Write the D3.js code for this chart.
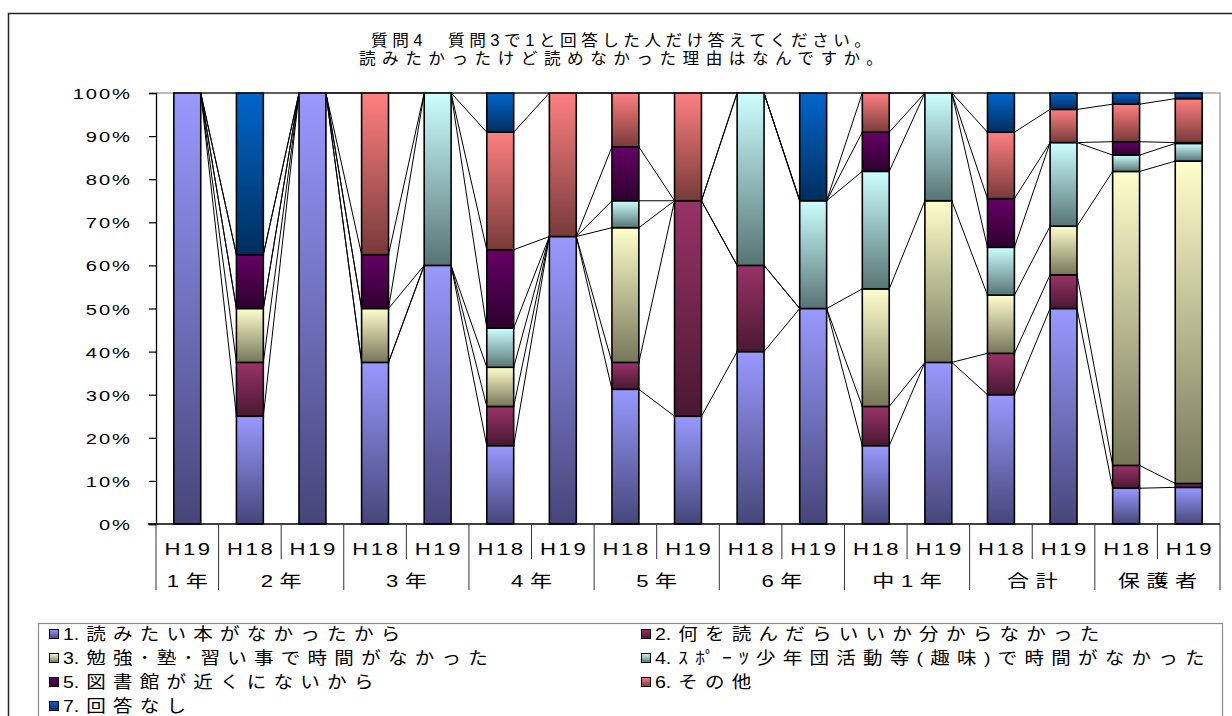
<!DOCTYPE html>
<html lang="ja">
<head>
<meta charset="utf-8">
<script src="https://cdn.jsdelivr.net/npm/d3@7"></script>
<style>
  html, body { margin: 0; padding: 0; background: #fff; }
  svg { display: block; }
  text { font-family: "Liberation Sans", "Noto Sans CJK JP", sans-serif; fill: #000; }
</style>
</head>
<body>
<svg id="chart" width="1232" height="716"></svg>
<script>
// Survey periods on the x axis (one bar each) and the grade groups they belong to
const periods = ["H19", "H18", "H19", "H18", "H19", "H18", "H19", "H18", "H19",
                 "H18", "H19", "H18", "H19", "H18", "H19", "H18", "H19"];
const groups = ["1年", "2年", "3年", "4年", "5年", "6年", "中1年", "合計", "保護者"];
const groupSizes = [1, 2, 2, 2, 2, 2, 2, 2, 2];

// Answer options (series)
const seriesNames = [
  "1. 読みたい本がなかったから",
  "2. 何を読んだらいいか分からなかった",
  "3. 勉強･塾･習い事で時間がなかった",
  "4. ｽﾎﾟｰﾂ少年団活動等(趣味)で時間がなかった",
  "5. 図書館が近くにないから",
  "6. その他",
  "7. 回答なし"
];

// Share of answers (%) per bar, one array per option
const opt1 = [100, 25, 100, 37.5, 60, 18.2, 66.7, 31.25, 25, 40, 50, 18.2, 37.5, 30.0, 50.0, 8.3, 8.5];
const opt2 = [0, 12.5, 0, 0, 0, 9.1, 0, 6.25, 50, 20, 0, 9.1, 0, 9.6, 7.8, 5.3, 0.9];
const opt3 = [0, 12.5, 0, 12.5, 0, 9.1, 0, 31.25, 0, 0, 0, 27.3, 37.5, 13.5, 11.3, 68.2, 74.8];
const opt4 = [0, 0, 0, 0, 40, 9.1, 0, 6.25, 0, 40, 25, 27.3, 25, 11.1, 19.4, 3.8, 4.1];
const opt5 = [0, 12.5, 0, 12.5, 0, 18.2, 0, 12.5, 0, 0, 0, 9.1, 0, 11.3, 0, 3.1, 0.2];
const opt6 = [0, 0, 0, 37.5, 0, 27.3, 33.3, 12.5, 25, 0, 0, 9.1, 0, 15.4, 7.7, 8.7, 10.2];
const opt7 = [0, 37.5, 0, 0, 0, 9.1, 0, 0, 0, 0, 25, 0, 0, 9.1, 3.8, 2.6, 1.3];

const yTicks = [0, 0.1, 0.2, 0.3, 0.4, 0.5, 0.6, 0.7, 0.8, 0.9, 1.0];

const titleLines = ["質問4　質問3で1と回答した人だけ答えてください。",
                    "読みたかったけど読めなかった理由はなんですか。"];

// Fill gradients (light top -> dark bottom) for each option
const gradTop    = ["#9999ff", "#993366", "#ffffcc", "#ccffff", "#660066", "#ff8080", "#0066cc"];
const gradBottom = ["#46467a", "#4a1832", "#76765a", "#587474", "#2e002e", "#783a3a", "#002e5e"];

const seriesValues = [opt1, opt2, opt3, opt4, opt5, opt6, opt7];
const keys = seriesNames.map((_, k) => "s" + k);
const rows = periods.map((p, i) => {
  const r = { idx: i };
  keys.forEach((key, k) => r[key] = seriesValues[k][i]);
  return r;
});

const svg = d3.select("#chart");
const plot = { left: 156, right: 1220, top: 93, bottom: 524 };

// Text is drawn slightly widened horizontally
const wide = (x, y, k) => `translate(${x},${y}) scale(${k},1)`;

// Outer chart frame
svg.append("rect")
  .attr("x", 8.5).attr("y", 13.5).attr("width", 1240).attr("height", 720)
  .attr("fill", "none").attr("stroke", "#222").attr("stroke-width", 1.5);

// Gradients
const defs = svg.append("defs");
keys.forEach((key, k) => {
  const g = defs.append("linearGradient").attr("id", "g" + k)
    .attr("x1", 0).attr("y1", 0).attr("x2", 0).attr("y2", 1);
  g.append("stop").attr("offset", "0%").attr("stop-color", gradTop[k]);
  g.append("stop").attr("offset", "100%").attr("stop-color", gradBottom[k]);
});

// Title
svg.append("g").selectAll("text").data(titleLines).join("text")
  .attr("transform", (d, i) => wide(621, 46 + i * 18, 1.04))
  .attr("text-anchor", "middle")
  .attr("font-size", 16)
  .attr("textLength", (d, i) => (i === 0 ? 500 : 524) / 1.04)
  .attr("lengthAdjust", "spacing")
  .text(d => d);

// Scales
const x = d3.scaleBand().domain(d3.range(periods.length))
  .range([plot.left, plot.right]).paddingInner(0).paddingOuter(0);
const step = x.step();
const barW = step * 0.43;
const barLeft = i => x(i) + (step - barW) / 2;
const y = d3.scaleLinear().domain([0, 1]).range([plot.bottom, plot.top]);

const stacked = d3.stack().keys(keys).offset(d3.stackOffsetExpand)(rows);

// Plot area border (top and right)
svg.append("path")
  .attr("d", `M${plot.left},${plot.top}H${plot.right}V${plot.bottom}`)
  .attr("fill", "none").attr("stroke", "#a6a6a6").attr("stroke-width", 1.5);

// Series lines between adjacent bars
const lineG = svg.append("g");
stacked.forEach(layer => {
  for (let i = 0; i < layer.length - 1; i++) {
    lineG.append("line")
      .attr("x1", barLeft(i) + barW).attr("y1", y(layer[i][1]))
      .attr("x2", barLeft(i + 1)).attr("y2", y(layer[i + 1][1]))
      .attr("stroke", "#000").attr("stroke-width", 1);
  }
});

// Stacked bars
svg.append("g").selectAll("g").data(stacked).join("g")
  .attr("fill", (d, k) => `url(#g${k})`)
  .selectAll("rect").data(d => d.filter(s => s[1] - s[0] > 0)).join("rect")
  .attr("x", d => barLeft(d.data.idx))
  .attr("y", d => y(d[1]))
  .attr("width", barW)
  .attr("height", d => y(d[0]) - y(d[1]))
  .attr("stroke", "#000").attr("stroke-width", 1.6);

// Y axis
const yAxis = svg.append("g")
  .attr("transform", `translate(${plot.left},0)`)
  .call(d3.axisLeft(y).tickValues(yTicks).tickFormat(d3.format(".0%")).tickSize(7));
yAxis.select(".domain").attr("stroke", "#000").attr("stroke-width", 1.3);
yAxis.selectAll(".tick line").attr("stroke", "#000").attr("stroke-width", 1.2);
yAxis.selectAll(".tick text")
  .attr("x", null).attr("dy", null)
  .attr("transform", wide(130 - plot.left, 5.5, 1.3))
  .attr("text-anchor", "end")
  .attr("font-size", 15.5).attr("font-family", "Liberation Sans, sans-serif")
  .attr("letter-spacing", "1.5px").attr("dx", "1.5px");

// X axis baseline
svg.append("line")
  .attr("x1", plot.left - 8).attr("x2", plot.right)
  .attr("y1", plot.bottom).attr("y2", plot.bottom)
  .attr("stroke", "#000").attr("stroke-width", 1.3);

// Category table under the axis
const groupStarts = [0];
groupSizes.forEach(n => groupStarts.push(groupStarts[groupStarts.length - 1] + n));
const tableG = svg.append("g");
d3.range(periods.length + 1).forEach(i => {
  const isGroupEdge = groupStarts.includes(i);
  tableG.append("line")
    .attr("x1", plot.left + i * step).attr("x2", plot.left + i * step)
    .attr("y1", plot.bottom).attr("y2", isGroupEdge ? 590 : 559)
    .attr("stroke", "#333").attr("stroke-width", 1);
});
tableG.selectAll("text.period").data(periods).join("text")
  .attr("class", "period")
  .attr("transform", (d, i) => wide(x(i) + step / 2, 555, 1.3))
  .attr("text-anchor", "middle")
  .attr("font-size", 17).attr("letter-spacing", "2px").attr("dx", "1px")
  .text(d => d);
tableG.selectAll("text.group").data(groups).join("text")
  .attr("class", "group")
  .attr("transform", (d, g) => wide(plot.left + (groupStarts[g] + groupSizes[g] / 2) * step, 587, 1.3))
  .attr("text-anchor", "middle")
  .attr("font-size", 17).attr("letter-spacing", "5px").attr("dx", "2.5px")
  .text(d => d);

// Legend
svg.append("rect")
  .attr("x", 38.5).attr("y", 623.5).attr("width", 1184).attr("height", 100)
  .attr("fill", "#fff").attr("stroke", "#8c8c8c").attr("stroke-width", 1.2);
const legItems = svg.append("g").selectAll("g").data(seriesNames).join("g")
  .attr("transform", (d, k) => `translate(${k % 2 === 0 ? 49 : 641},${634 + Math.floor(k / 2) * 24})`);
legItems.append("rect")
  .attr("x", 0.5).attr("y", -4.5).attr("width", 9).attr("height", 9)
  .attr("fill", (d, k) => `url(#g${k})`)
  .attr("stroke", "#000").attr("stroke-width", 1);
const legText = legItems.append("text")
  .attr("transform", wide(14, 6, 1.15))
  .attr("font-size", 17);
// number prefix set tight, the rest of the label spaced out
legText.append("tspan")
  .attr("letter-spacing", "0px")
  .text(d => d.slice(0, d.indexOf(" ")));
legText.append("tspan")
  .attr("dx", 6)
  .attr("letter-spacing", "6.3px")
  .text(d => d.slice(d.indexOf(" ") + 1));
</script>
</body>
</html>
